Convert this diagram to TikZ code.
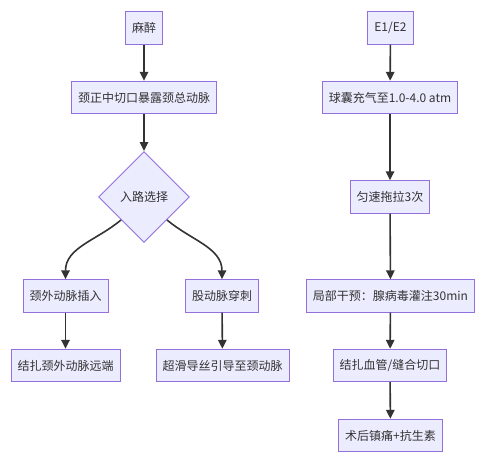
\documentclass[tikz,border=0pt]{standalone}
\usepackage{fontspec}
\setmainfont{Noto Sans CJK SC}
\usepackage{tikz}
\usetikzlibrary{shapes.geometric, arrows.meta}
\definecolor{boxfill}{HTML}{ECECFF}
\definecolor{boxline}{HTML}{9370DB}
\definecolor{linkgray}{HTML}{333333}

\begin{document}
\begin{tikzpicture}[x=1pt, y=1pt, ->, >={Triangle[length=9pt, width=8.5pt]}, color=linkgray, line width=1.6pt, font=\fontsize{12pt}{14pt}\selectfont,
  box/.style={rectangle, draw=boxline, fill=boxfill, line width=0.9pt, minimum height=32.5pt, inner xsep=6.5pt, inner ysep=0pt},
  choice/.style={diamond, aspect=1, draw=boxline, fill=boxfill, line width=0.9pt, minimum size=91pt, inner sep=0pt}]
\useasboundingbox (0,0) rectangle (493,460);
\node[box] at (144,432) (mz) {麻醉};
\node[box] at (144,362.5) (qk) {颈正中切口暴露颈总动脉};
\node[choice] at (144,263) (rl) {入路选择};
\node[box] at (65.5,164) (wc) {颈外动脉插入};
\node[box] at (222,164) (gc) {股动脉穿刺};
\node[box] at (65.5,94.5) (jz) {结扎颈外动脉远端};
\node[box] at (222.5,94.5) (dg) {超滑导丝引导至颈动脉};
\node[box] at (390.5,432) (e12) {E1/E2};
\node[box] at (390,362.5) (qn) {球囊充气至1.0-4.0 atm};
\node[box] at (390,263) (tl) {匀速拖拉3次};
\node[box] at (390.5,164) (gy) {局部干预：腺病毒灌注30min};
\node[box] at (390,94.5) (fh) {结扎血管/缝合切口};
\node[box] at (390.5,24.5) (sh) {术后镇痛+抗生素};
\draw (mz) edge (qk);
\draw (qk) edge (rl);
\draw (rl.south west) to[out=220, in=90] (wc.north);
\draw (rl.south east) to[out=-40, in=90] (gc.north);
\draw (wc) edge (jz);
\draw (gc) edge (dg);
\draw (e12) edge (qn);
\draw (qn) edge (tl);
\draw (tl) edge (gy);
\draw (gy) edge (fh);
\draw (fh) edge (sh);
\end{tikzpicture}
\end{document}
